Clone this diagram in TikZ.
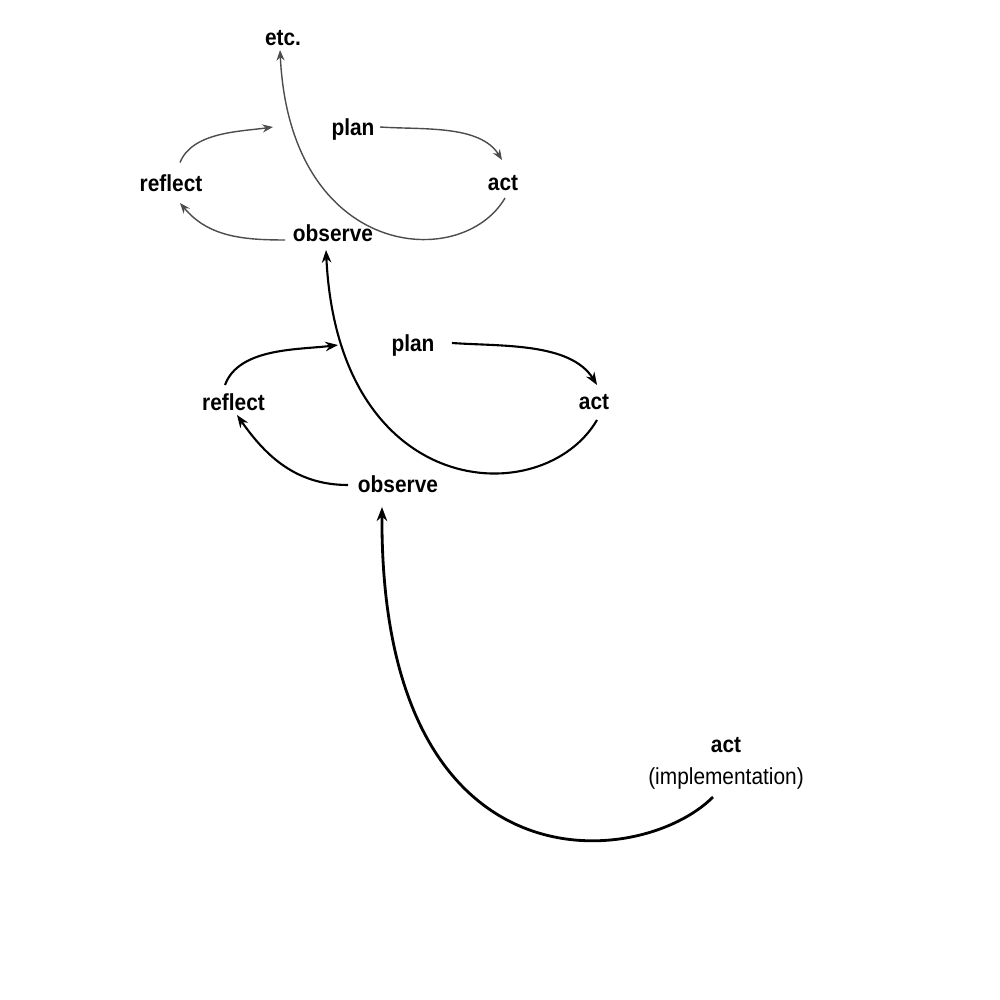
\documentclass[tikz,border=0pt]{standalone}
\usepackage{fontspec}
\usetikzlibrary{arrows.meta}
\newfontfamily\lblfont{Liberation Sans}[FakeStretch=0.9]
\begin{document}
\begin{tikzpicture}[every node/.style={font=\lblfont\bfseries\fontsize{6.6}{8}\selectfont, inner sep=1pt},
  note/.style={font=\lblfont\fontsize{6.6}{8}\selectfont},
  thinloop/.style={-{Stealth[length=3pt, width=2.3pt]}, line width=0.4pt, black!70},
  midloop/.style={-{Stealth[length=3.6pt, width=2.7pt]}, line width=0.6pt},
  bigloop/.style={-{Stealth[length=4pt, width=3pt]}, line width=0.8pt}]
  \useasboundingbox (0,0) rectangle (10,-10);
  % top cycle
  \node (etc) at (2.83,-0.38) {etc.};
  \node (plan1) at (3.53,-1.30) {plan};
  \node (act1) at (5.03,-1.83) {act};
  \node (reflect1) at (1.71,-1.835) {reflect};
  \node (observe1) at (3.33,-2.335) {observe};
  % middle cycle
  \node (plan2) at (4.13,-3.46) {plan};
  \node (act2) at (5.94,-4.02) {act};
  \node (reflect2) at (2.335,-4.02) {reflect};
  \node (observe2) at (3.98,-4.84) {observe};
  % start
  \node (act3) at (7.26,-7.455) {act};
  \node[note] (impl) at (7.26,-7.785) {(implementation)};
  \draw[thinloop] ([shift={(0.09,0.21)}]reflect1.center) to[out=68, in=188, looseness=0.85] ([shift={(-0.80,0.03)}]plan1.center);
  \draw[thinloop] ([shift={(0.27,0.03)}]plan1.center) to[out=-4, in=122, looseness=0.85] ([shift={(-0.01,0.23)}]act1.center);
  \draw[thinloop] ([shift={(0.02,-0.15)}]act1.center) .. controls (4.62,-2.72) and (2.9,-2.6) .. ([shift={(-0.03,-0.12)}]etc.center);
  \draw[thinloop] ([shift={(-0.48,-0.065)}]observe1.center) to[out=180, in=-50] ([shift={(0.09,-0.195)}]reflect1.center);
  \draw[midloop] ([shift={(-0.085,0.17)}]reflect2.center) to[out=70, in=187, looseness=0.85] ([shift={(-0.75,0.01)}]plan2.center);
  \draw[midloop] ([shift={(0.39,0.03)}]plan2.center) to[out=-4, in=122, looseness=0.85] ([shift={(0.03,0.17)}]act2.center);
  \draw[midloop] ([shift={(0.03,-0.18)}]act2.center) .. controls (5.43,-5.12) and (3.38,-5.02) .. ([shift={(-0.07,-0.165)}]observe1.center);
  \draw[midloop] ([shift={(-0.50,-0.01)}]observe2.center) to[out=180, in=-55] ([shift={(0.035,-0.13)}]reflect2.center);
  \draw[bigloop] ([shift={(-0.13,-0.185)}]impl.center) .. controls (6.4,-8.7) and (3.8,-8.95) .. ([shift={(-0.16,-0.23)}]observe2.center);
\end{tikzpicture}
\end{document}
